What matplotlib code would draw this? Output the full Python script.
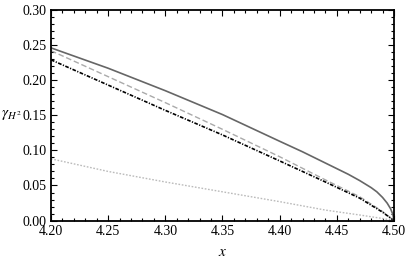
import numpy as np
import matplotlib
matplotlib.use('Agg')
import matplotlib.pyplot as plt
from matplotlib.ticker import MultipleLocator, FormatStrFormatter

plt.rcParams['font.family'] = ['Liberation Serif', 'DejaVu Serif']
plt.rcParams['mathtext.fontset'] = 'stix'

# 값은 그림에서 읽은 추정치
x_solid = [4.20, 4.25, 4.30, 4.35, 4.40, 4.42, 4.44, 4.45, 4.46, 4.47, 4.48, 4.485, 4.49, 4.494, 4.497, 4.499, 4.50]
y_solid = [0.246, 0.217, 0.185, 0.151, 0.113, 0.098, 0.082, 0.074, 0.066, 0.057, 0.047, 0.041, 0.033, 0.025, 0.017, 0.009, 0.0]

x_grid = [4.20, 4.25, 4.30, 4.35, 4.40, 4.44, 4.47, 4.49, 4.50]
y_dashed = [0.242, 0.205, 0.168, 0.130, 0.091, 0.058, 0.034, 0.013, 0.0]
y_dashdot = [0.229, 0.193, 0.157, 0.122, 0.085, 0.055, 0.032, 0.012, 0.0]
y_dotted = [0.088, 0.070, 0.055, 0.041, 0.027, 0.015, 0.008, 0.003, 0.0]

fig = plt.figure(figsize=(4.07, 2.62), dpi=100)
ax = fig.add_axes([0.1253, 0.158, 0.968 - 0.1253, 0.962 - 0.158])

ax.plot(x_solid, y_solid, color='#666666', lw=1.2)
ax.plot(x_grid, y_dashed, color='#aaaaaa', lw=1.0, dashes=(4, 2))
ax.plot(x_grid, y_dashdot, color='black', lw=1.2, dashes=(2.2, 0.9, 0.7, 0.9))
ax.plot(x_grid, y_dotted, color='#bbbbbb', lw=1.0, dashes=(1.2, 1.2))

ax.set_xlim(4.20, 4.50)
ax.set_ylim(0.0, 0.30)
ax.xaxis.set_major_locator(MultipleLocator(0.05))
ax.xaxis.set_minor_locator(MultipleLocator(0.01))
ax.yaxis.set_major_locator(MultipleLocator(0.05))
ax.yaxis.set_minor_locator(MultipleLocator(0.01))
ax.xaxis.set_major_formatter(FormatStrFormatter('%.2f'))
ax.yaxis.set_major_formatter(FormatStrFormatter('%.2f'))

ax.tick_params(which='both', direction='in', top=True, right=True, labelsize=10, width=0.8)
ax.tick_params(which='major', length=4, pad=3)
ax.tick_params(which='minor', length=2)
for s in ax.spines.values():
    s.set_linewidth(1.3)

ax.set_xlabel('$x$', fontsize=11, labelpad=6)
ax.set_ylabel('$\\gamma_{H^2}$', fontsize=11, rotation=0, ha='center', va='center')
ax.yaxis.set_label_coords(-0.115, 0.5)

plt.savefig('out.png', dpi=100)
